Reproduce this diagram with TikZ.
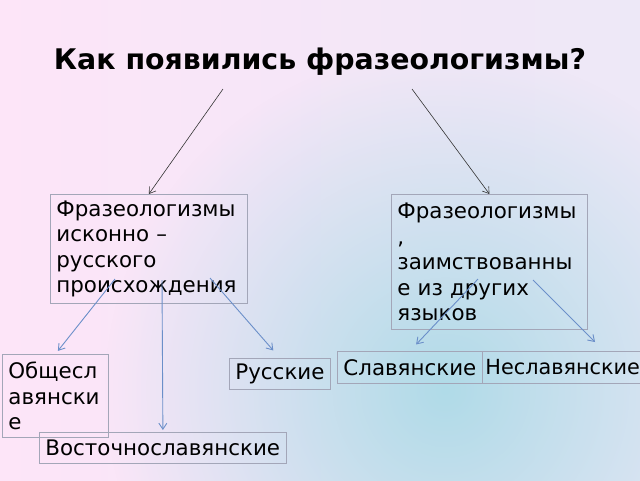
\documentclass[tikz,border=0pt]{standalone}
\usepackage{fontspec}
\setmainfont{DejaVu Sans}
\usetikzlibrary{arrows.meta,calc,fadings}

\definecolor{bgpink}{HTML}{FDE5F8}
\definecolor{bgblue}{HTML}{EDE8F7}
\definecolor{spotblue}{HTML}{B0DBE8}
\definecolor{boxline}{HTML}{A3A6B8}
\definecolor{linkblue}{HTML}{6B8FC9}

\tikzfading[name=spotfade, inner color=transparent!0, outer color=transparent!100]

\tikzset{
  box/.style={draw=boxline, line width=0.8pt, anchor=north west, align=left,
    inner xsep=6pt, inner ysep=2pt, font=\fontsize{21.4}{25.5}\selectfont},
  blk/.style={-{Straight Barb[length=6pt,width=8pt]}, line width=0.6pt, draw=black!80},
  blu/.style={-{Straight Barb[length=6pt,width=8pt]}, line width=0.9pt, draw=linkblue},
}

\begin{document}
\begin{tikzpicture}[x=1pt, y=-1pt]
  \useasboundingbox (0,0) rectangle (640,480);

  % background
  \shade[left color=bgpink, right color=bgblue] (0,0) rectangle (640,480);
  \fill[spotblue, path fading=spotfade] (445,390) circle (340);

  \node[font=\fontsize{28.4}{34}\selectfont\bfseries] (title) at (320,62) {Как появились фразеологизмы?};

  \node[box, minimum width=197, minimum height=109, text width=185] (native) at (50,194)
    {Фразеологизмы\\исконно –\\русского\\происхождения};
  \node[box, minimum width=196, minimum height=135, text width=184] (borrowed) at (391,194)
    {Фразеологизмы\\,\\заимствованны\\е из других\\языков};

  \node[box, minimum width=106, minimum height=83, text width=94] (common) at (2,354)
    {Общесл\\авянски\\е};
  \node[box, minimum width=101, minimum height=31, text width=89] (russian) at (229,358) {Русские};
  \node[box, minimum width=247, minimum height=31, text width=235] (eastern) at (39,432) {Восточнославянские};
  \node[box, minimum width=145, minimum height=32, text width=133] (slavic) at (337,351) {Славянские};
  \node[box, minimum width=170, minimum height=32, text width=164, inner xsep=3pt,
    font=\fontsize{20.8}{25.5}\selectfont] (nonslavic) at (482,351) {Неславянские};

  % arrows
  \coordinate (tl) at (223,89);
  \coordinate (tr) at (412,89);
  \draw[blk] (tl) -- (native.north);
  \draw[blk] (tr) -- (borrowed.north);

  \coordinate (n1) at (115,279);
  \coordinate (n2) at (162,280);
  \coordinate (n3) at (210,278);
  \coordinate (b1) at (478,279);
  \coordinate (b2) at (533,280);
  \coordinate (nsend) at (595,342);
  \draw[blu, shorten >=4pt] (n1) -- (common.north);
  \draw[blu, shorten >=2pt] (n2) -- (eastern.north);
  \draw[blu, shorten >=10pt] (n3) -- (russian.north);
  \draw[blu, shorten >=9pt] (b1) -- (slavic.north);
  \draw[blu] (b2) -- (nsend);
\end{tikzpicture}
\end{document}
